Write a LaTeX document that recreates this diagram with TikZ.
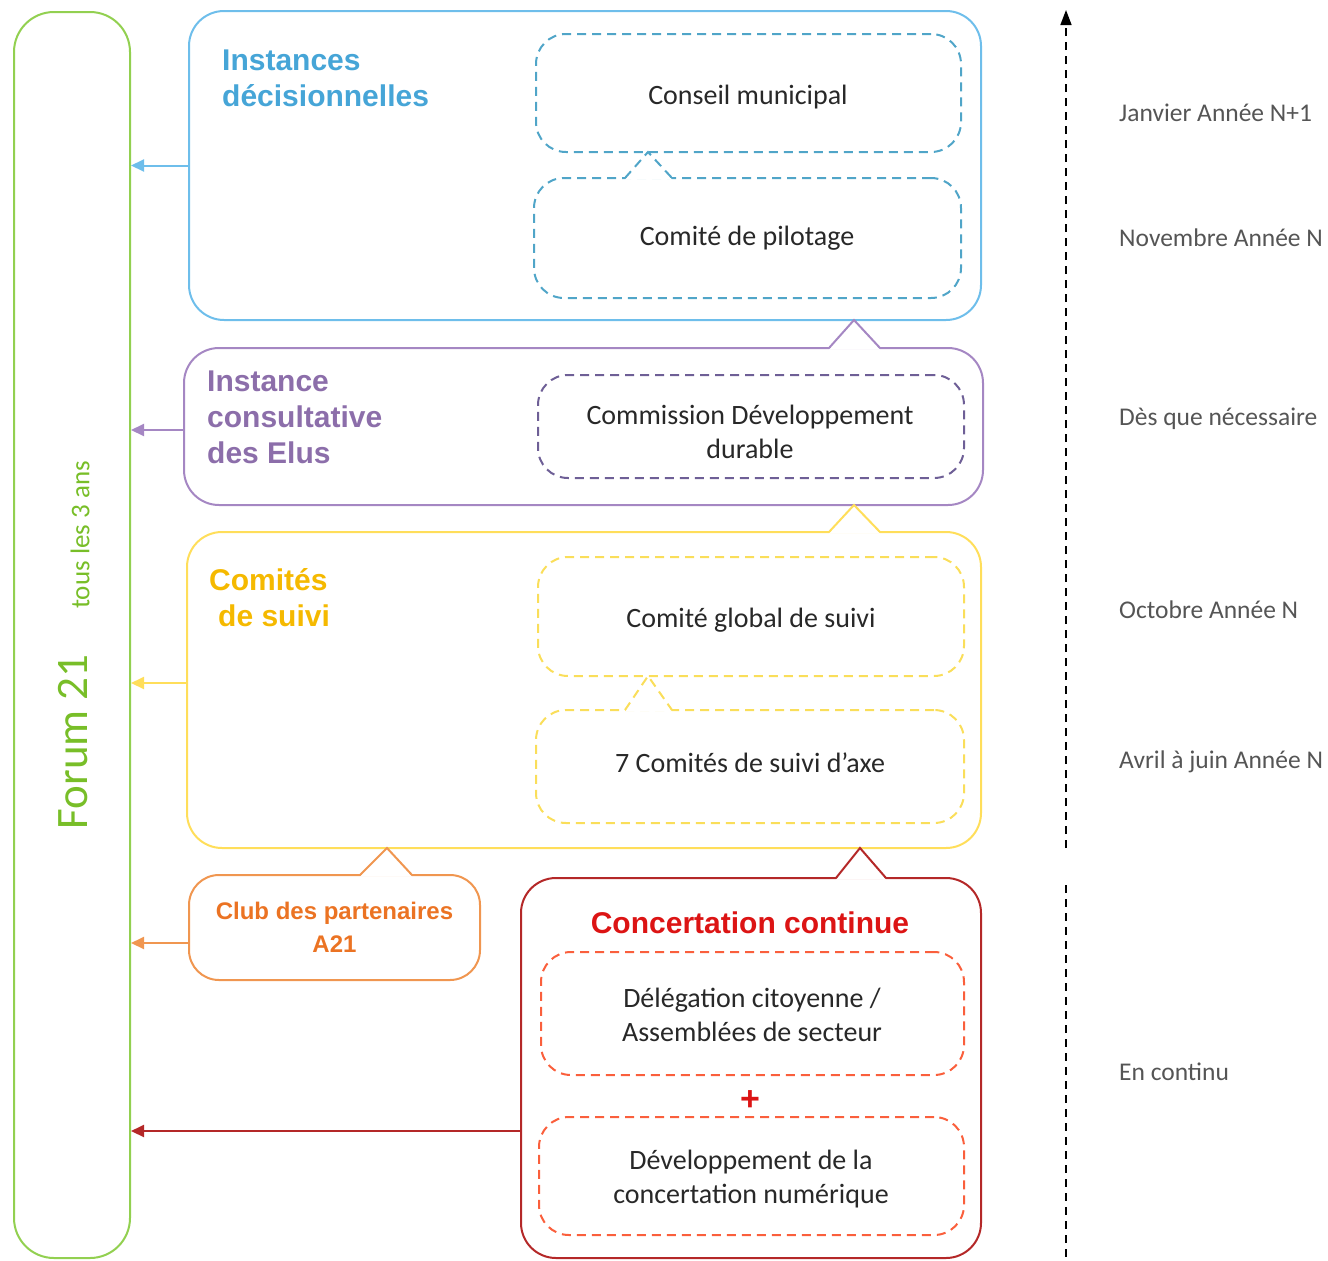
\documentclass[tikz,border=0pt]{standalone}
\usepackage{fontspec}
\setmainfont{Carlito}
\newfontfamily\headfont{Liberation Sans}
\usetikzlibrary{arrows.meta}
\definecolor{fgreen}{RGB}{146,208,80}
\definecolor{fgreentxt}{RGB}{120,190,40}
\definecolor{bline}{RGB}{110,190,235}
\definecolor{btxt}{RGB}{70,165,215}
\definecolor{bdash}{RGB}{80,165,200}
\definecolor{pline}{RGB}{165,135,195}
\definecolor{ptxt}{RGB}{140,110,170}
\definecolor{pdash}{RGB}{110,95,150}
\definecolor{yline}{RGB}{255,222,90}
\definecolor{ytxt}{RGB}{245,185,0}
\definecolor{ydash}{RGB}{250,222,90}
\definecolor{oline}{RGB}{240,150,80}
\definecolor{otxt}{RGB}{235,115,35}
\definecolor{rline}{RGB}{180,40,40}
\definecolor{rtxt}{RGB}{220,20,20}
\definecolor{rdash}{RGB}{250,95,60}
\definecolor{gtxt}{RGB}{85,85,85}
\definecolor{btext}{RGB}{40,40,40}
\begin{document}
\begin{tikzpicture}[x=1pt,y=1pt,
  frame/.style={draw, line width=2pt, inner sep=0pt},
  dbox/.style={draw, line width=2pt, dash pattern=on 9pt off 6pt, rounded corners=30pt, inner sep=0pt},
  btxtnode/.style={font=\fontsize{28}{34}\selectfont, align=center, text=btext, inner sep=0pt},
  head/.style={font=\headfont\bfseries\fontsize{30}{36}\selectfont, align=left, anchor=west, inner sep=0pt},
  when/.style={font=\fontsize{25.5}{30}\selectfont, text=gtxt, anchor=west, inner sep=0pt},
  arr/.style={line width=2pt, -{Triangle[length=13pt,width=12pt]}},
  ptr/.style={line width=2pt, line join=miter},
  tline/.style={line width=1.5pt, black, dash pattern=on 8pt off 6pt}
]
\useasboundingbox (0,0) rectangle (1328,-1261);

% Forum 21
\node[frame, draw=fgreen, rounded corners=40pt, minimum width=116pt, minimum height=1246pt] (forum) at (72,-635) {};
\node[rotate=90, text=fgreentxt, font=\fontsize{45}{54}\selectfont] (forumtxt) at (73,-742) {Forum 21};
\node[rotate=90, text=fgreentxt, font=\fontsize{27}{32}\selectfont] (tous) at (80,-535) {tous les 3 ans};

% Instances decisionnelles
\node[frame, draw=bline, rounded corners=35pt, minimum width=792pt, minimum height=309pt] (inst) at (585,-165.5) {};
\node[head, text=btxt] (insttxt) at (222,-78.5) {Instances\\décisionnelles};
\node[dbox, draw=bdash, minimum width=425pt, minimum height=118pt] (conseil) at (748.5,-93) {};
\node[btxtnode] (conseiltxt) at (748,-97) {Conseil municipal};
\node[dbox, draw=bdash, minimum width=427pt, minimum height=120pt] (pilot) at (747.5,-238) {};
\node[btxtnode] (pilottxt) at (747,-238) {Comité de pilotage};
\fill[white] (625,-179.5) -- (648,-153) -- (672,-179.5) -- cycle;
\draw[ptr, bdash, dash pattern=on 9pt off 6pt] (625,-178) -- (648,-152) -- (672,-178);

% Instance consultative
\node[frame, draw=pline, rounded corners=35pt, minimum width=799pt, minimum height=157pt] (consult) at (583.5,-426.5) {};
\fill[white] (829,-349.5) -- (854,-321) -- (880,-349.5) -- cycle;
\draw[ptr, pline] (829,-348) -- (854,-320) -- (880,-348);
\node[head, text=ptxt] (consulttxt) at (207,-417) {Instance\\consultative\\des Elus};
\node[dbox, draw=pdash, minimum width=426pt, minimum height=103pt] (commission) at (751,-426.5) {};
\node[btxtnode] (commissiontxt) at (750,-432) {Commission Développement\\durable};

% Comites de suivi
\node[frame, draw=yline, rounded corners=35pt, minimum width=794pt, minimum height=316pt] (suivi) at (584,-690) {};
\fill[white] (829,-533.5) -- (854,-506) -- (880,-533.5) -- cycle;
\draw[ptr, yline] (829,-532) -- (854,-505) -- (880,-532);
\node[head, text=ytxt] (suivitxt) at (209,-597.5) {Comités\\\hspace*{9pt}de suivi};
\node[dbox, draw=ydash, minimum width=426pt, minimum height=119pt] (global) at (751,-616.5) {};
\node[btxtnode] (globaltxt) at (751,-620) {Comité global de suivi};
\node[dbox, draw=ydash, minimum width=428pt, minimum height=113pt] (axe) at (750,-766.5) {};
\node[btxtnode] (axetxt) at (750,-763) {7 Comités de suivi d’axe};
\fill[white] (625,-711.5) -- (648,-677) -- (672,-711.5) -- cycle;
\draw[ptr, ydash, dash pattern=on 9pt off 6pt] (625,-710) -- (648,-676) -- (672,-710);

% Club des partenaires
\node[frame, draw=oline, rounded corners=30pt, minimum width=291pt, minimum height=105pt, text=otxt,
  align=center, font=\headfont\bfseries\fontsize{24}{33}\selectfont] (club) at (334.5,-927.5) {Club des partenaires\\A21};
\fill[white] (360,-876.5) -- (387,-849) -- (412,-876.5) -- cycle;
\draw[ptr, oline] (360,-875) -- (387,-848) -- (412,-875);

% Concertation continue
\node[frame, draw=rline, rounded corners=35pt, minimum width=460pt, minimum height=380pt] (concert) at (751,-1068) {};
\fill[white] (836,-879.5) -- (860,-849) -- (886,-879.5) -- cycle;
\draw[ptr, rline] (836,-878) -- (860,-848) -- (886,-878);
\node[text=rtxt, font=\headfont\bfseries\fontsize{30}{36}\selectfont, inner sep=0pt] (concerttxt) at (750,-923) {Concertation continue};
\node[dbox, draw=rdash, minimum width=423pt, minimum height=123pt] (deleg) at (752.5,-1013.5) {};
\node[btxtnode] (delegtxt) at (752,-1015) {Délégation citoyenne /\\Assemblées de secteur};
\node[text=rtxt, font=\headfont\bfseries\fontsize{34}{40}\selectfont, inner sep=0pt] (plus) at (750,-1101) {+};
\node[dbox, draw=rdash, minimum width=425pt, minimum height=118pt] (numer) at (751.5,-1176) {};
\node[btxtnode] (numertxt) at (751,-1179) {Développement de la\\concertation numérique};

% arrows to Forum
\draw[arr, bline] (inst.west) -- (inst.west -| forum.east);
\draw[arr, pline] ([yshift=-3.5pt]consult.west) -- ([yshift=-3.5pt]consult.west -| forum.east);
\draw[arr, yline] ([yshift=7pt]suivi.west) -- ([yshift=7pt]suivi.west -| forum.east);
\draw[arr, oline] ([yshift=-15.5pt]club.west) -- ([yshift=-15.5pt]club.west -| forum.east);
\draw[arr, rline] ([yshift=-63pt]concert.west) -- ([yshift=-63pt]concert.west -| forum.east);

% timeline
\coordinate (ttop) at (1066,-10);
\coordinate (tbot) at (1066,-848);
\coordinate (t2a) at (1066,-885);
\coordinate (t2b) at (1066,-1261);
\draw[tline, -{Triangle[length=15pt,width=11pt]}] (tbot) -- (ttop);
\draw[tline] (t2a) -- (t2b);

\node[when] (w1) at (1119,-113) {Janvier Année N+1};
\node[when] (w2) at (1119,-238) {Novembre Année N};
\node[when] (w3) at (1119,-419) {Dès que nécessaire};
\node[when] (w4) at (1119,-610) {Octobre Année N};
\node[when] (w5) at (1119,-762) {Avril à juin Année N};
\node[when] (w6) at (1119,-1072) {En continu};
\end{tikzpicture}
\end{document}
